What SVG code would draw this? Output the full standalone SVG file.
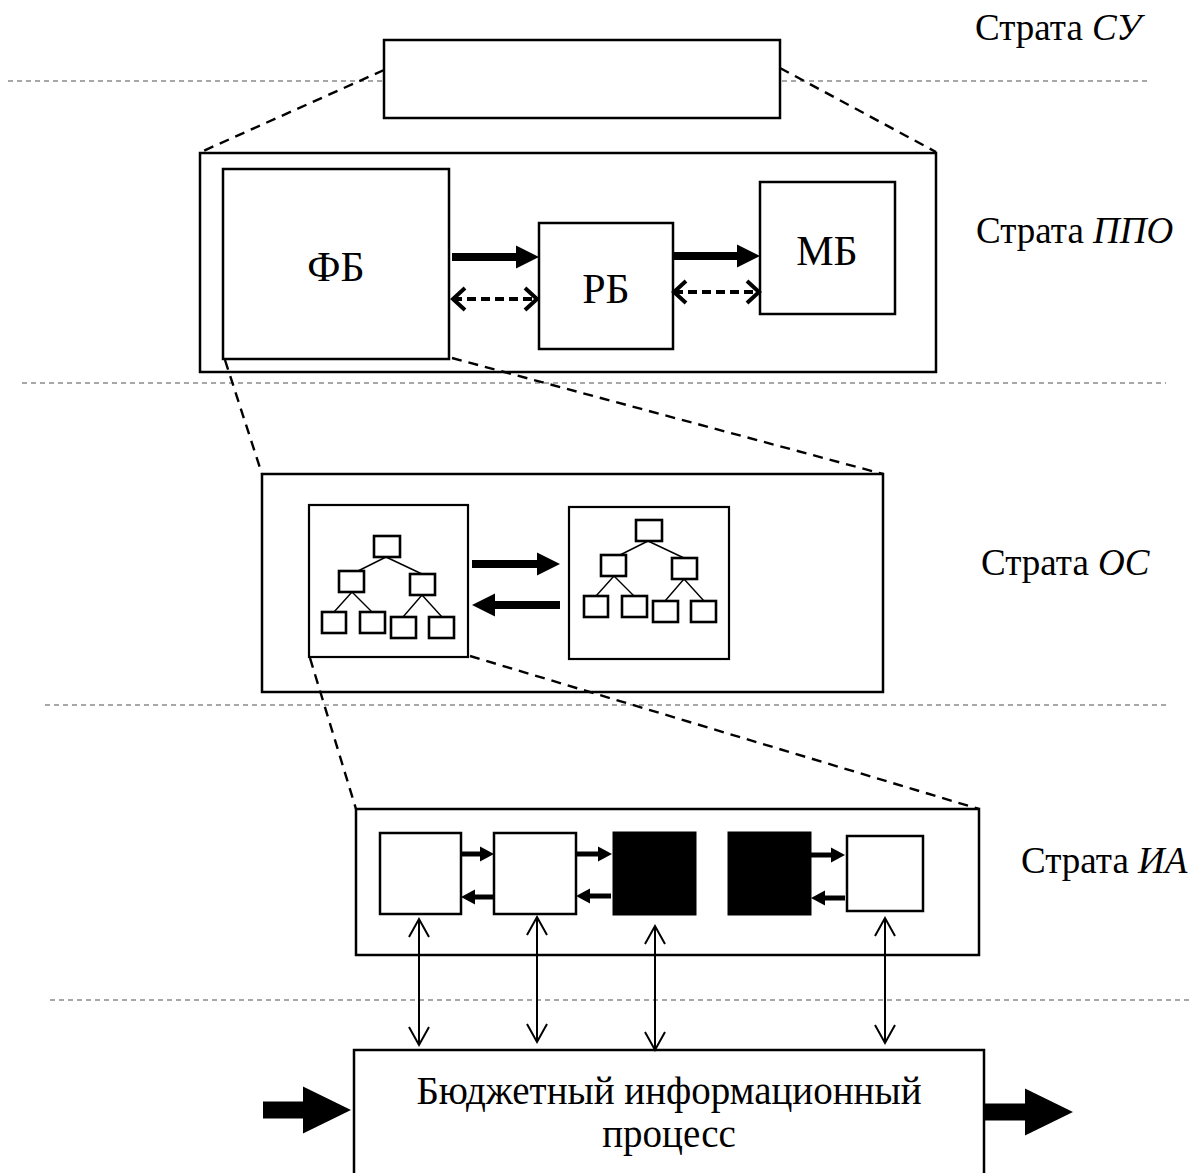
<svg xmlns="http://www.w3.org/2000/svg" xmlns:xlink="http://www.w3.org/1999/xlink" width="1191" height="1173" viewBox="0 0 1191 1173">
<style>
  .box { fill: #fff; stroke: #000; stroke-width: 2.5; }
  .blk { fill: #000; stroke: #000; stroke-width: 1; }
  .tnode { fill: #fff; stroke: #000; stroke-width: 2.6; }
  .tline { stroke: #000; stroke-width: 1.4; fill: none; }
  .strata { stroke: #8a8a8a; stroke-width: 1.5; stroke-dasharray: 5 4; fill: none; }
  .zoom { stroke: #000; stroke-width: 2.4; stroke-dasharray: 10 7; fill: none; }
  .thick { stroke: #000; stroke-width: 8; fill: none; marker-end: url(#headM); }
  .small { stroke: #000; stroke-width: 5; fill: none; marker-end: url(#headS); }
  .big { stroke: #000; stroke-width: 17; fill: none; marker-end: url(#headL); }
  .dash2 { stroke: #000; stroke-width: 4; stroke-dasharray: 9 5; fill: none; marker-start: url(#chevD); marker-end: url(#chevD); }
  .vert { stroke: #000; stroke-width: 2; fill: none; marker-start: url(#chevV); marker-end: url(#chevV); }
  .lbl { font-family: "Liberation Serif", "Times New Roman", serif; font-size: 37px; fill: #000; }
  .proc { font-family: "Liberation Serif", "Times New Roman", serif; font-size: 39px; fill: #000; text-anchor: middle; }
  .it { font-style: italic; }
  .node { font-family: "Liberation Serif", "Times New Roman", serif; font-size: 42px; fill: #000; text-anchor: middle; }
</style>
<defs>
  <marker id="headM" markerUnits="userSpaceOnUse" markerWidth="23" markerHeight="23" refX="0" refY="11.5" orient="auto" overflow="visible">
    <path d="M0,0 L23,11.5 L0,23 Z" fill="#000"/>
  </marker>
  <marker id="headS" markerUnits="userSpaceOnUse" markerWidth="14" markerHeight="15" refX="0" refY="7.5" orient="auto" overflow="visible">
    <path d="M0,0 L14,7.5 L0,15 Z" fill="#000"/>
  </marker>
  <marker id="headL" markerUnits="userSpaceOnUse" markerWidth="48" markerHeight="47" refX="0" refY="23.5" orient="auto" overflow="visible">
    <path d="M0,0 L48,23.5 L0,47 Z" fill="#000"/>
  </marker>
  <marker id="chevD" markerUnits="userSpaceOnUse" markerWidth="16" markerHeight="26" refX="14" refY="13" orient="auto-start-reverse" overflow="visible">
    <path d="M2,2 L14,13 L2,24" fill="none" stroke="#000" stroke-width="4" stroke-dasharray="none"/>
  </marker>
  <marker id="chevV" markerUnits="userSpaceOnUse" markerWidth="20" markerHeight="22" refX="18" refY="10" orient="auto-start-reverse" overflow="visible">
    <path d="M0,0 L18,10 L0,20" fill="none" stroke="#000" stroke-width="2" stroke-dasharray="none"/>
  </marker>
  <g id="tree">
    <path class="tline" d="M12,21 L-16,35 M12,21 L48,38 M-22,56 L-40,76 M-22,56 L-2,76 M48,59 L29,81 M48,59 L68,81"/>
    <rect class="tnode" x="0" y="0" width="26" height="21"/>
    <rect class="tnode" x="-35" y="35" width="25" height="21"/>
    <rect class="tnode" x="36" y="38" width="25" height="21"/>
    <rect class="tnode" x="-52" y="76" width="24" height="21"/>
    <rect class="tnode" x="-14" y="76" width="25" height="21"/>
    <rect class="tnode" x="17" y="81" width="25" height="21"/>
    <rect class="tnode" x="55" y="81" width="25" height="21"/>
  </g>
</defs>

<rect width="1191" height="1173" fill="#fff"/>

<!-- strata separators -->
<g id="strata-lines">
  <line class="strata" x1="8" y1="81" x2="1150" y2="81"/>
  <line class="strata" x1="22" y1="383" x2="1166" y2="383"/>
  <line class="strata" x1="45" y1="705" x2="1166" y2="705"/>
  <line class="strata" x1="50" y1="1000" x2="1191" y2="1000"/>
</g>

<!-- strata labels -->
<g id="labels">
  <text class="lbl" x="975" y="40">Страта <tspan class="it">СУ</tspan></text>
  <text class="lbl" x="976" y="243">Страта <tspan class="it">ППО</tspan></text>
  <text class="lbl" x="981" y="575">Страта <tspan class="it">ОС</tspan></text>
  <text class="lbl" x="1021" y="873">Страта <tspan class="it">ИА</tspan></text>
</g>

<!-- nodes -->
<g id="node-su"><rect class="box" x="384" y="40" width="396" height="78"/></g>

<g id="node-ppo"><rect class="box" x="200" y="153" width="736" height="219"/></g>
<g id="node-fb"><rect class="box" x="223" y="169" width="226" height="190"/><text class="node" x="336" y="281">ФБ</text></g>
<g id="node-rb"><rect class="box" x="539" y="223" width="134" height="126"/><text class="node" x="606" y="303">РБ</text></g>
<g id="node-mb"><rect class="box" x="760" y="182" width="135" height="132"/><text class="node" x="827" y="265">МБ</text></g>

<g id="node-os"><rect class="box" x="262" y="474" width="621" height="218"/></g>
<g id="node-os-left"><rect class="box" x="309" y="505" width="159" height="152" style="stroke-width:2.2"/><use xlink:href="#tree" href="#tree" x="374" y="536"/></g>
<g id="node-os-right"><rect class="box" x="569" y="507" width="160" height="152" style="stroke-width:2.2"/><use xlink:href="#tree" href="#tree" x="636" y="520"/></g>

<g id="node-ia"><rect class="box" x="356" y="809" width="623" height="146"/></g>
<g id="node-ia1"><rect class="box" x="380" y="833" width="81" height="81"/></g>
<g id="node-ia2"><rect class="box" x="494" y="833" width="82" height="81"/></g>
<g id="node-ia3"><rect class="blk" x="613" y="832" width="83" height="83"/></g>
<g id="node-ia4"><rect class="blk" x="728" y="832" width="83" height="83"/></g>
<g id="node-ia5"><rect class="box" x="847" y="836" width="76" height="75"/></g>

<g id="node-process">
  <rect class="box" x="354" y="1050" width="630" height="140"/>
  <text class="proc" x="669" y="1104">Бюджетный информационный</text>
  <text class="proc" x="669" y="1147">процесс</text>
</g>

<!-- connectors -->
<g id="connectors">
  <!-- zoom projection lines -->
  <line class="zoom" x1="384" y1="70" x2="201" y2="152"/>
  <line class="zoom" x1="780" y1="68" x2="936" y2="152"/>
  <line class="zoom" x1="225" y1="360" x2="262" y2="474"/>
  <line class="zoom" x1="452" y1="358" x2="883" y2="474"/>
  <line class="zoom" x1="310" y1="658" x2="356" y2="809"/>
  <line class="zoom" x1="470" y1="656" x2="979" y2="809"/>

  <!-- ППО arrows -->
  <line class="thick" x1="452" y1="257" x2="516" y2="257"/>
  <line class="thick" x1="673" y1="256" x2="737" y2="256"/>
  <line class="dash2" x1="453" y1="299" x2="537" y2="299"/>
  <line class="dash2" x1="674" y1="292" x2="759" y2="292"/>

  <!-- ОС arrows -->
  <line class="thick" x1="472" y1="564" x2="537" y2="564"/>
  <line class="thick" x1="560" y1="605" x2="495" y2="605"/>

  <!-- ИА arrows -->
  <line class="small" x1="461" y1="854" x2="480" y2="854"/>
  <line class="small" x1="494" y1="897" x2="475" y2="897"/>
  <line class="small" x1="576" y1="854" x2="598" y2="854"/>
  <line class="small" x1="611" y1="896" x2="590" y2="896"/>
  <line class="small" x1="811" y1="855" x2="831" y2="855"/>
  <line class="small" x1="845" y1="898" x2="825" y2="898"/>

  <!-- vertical links to process -->
  <line class="vert" x1="419" y1="919" x2="419" y2="1045"/>
  <line class="vert" x1="537" y1="917" x2="537" y2="1042"/>
  <line class="vert" x1="655" y1="926" x2="655" y2="1050"/>
  <line class="vert" x1="885" y1="918" x2="885" y2="1043"/>

  <!-- process input/output -->
  <line class="big" x1="263" y1="1110" x2="303" y2="1110"/>
  <line class="big" x1="984" y1="1112" x2="1025" y2="1112"/>
</g>
</svg>
